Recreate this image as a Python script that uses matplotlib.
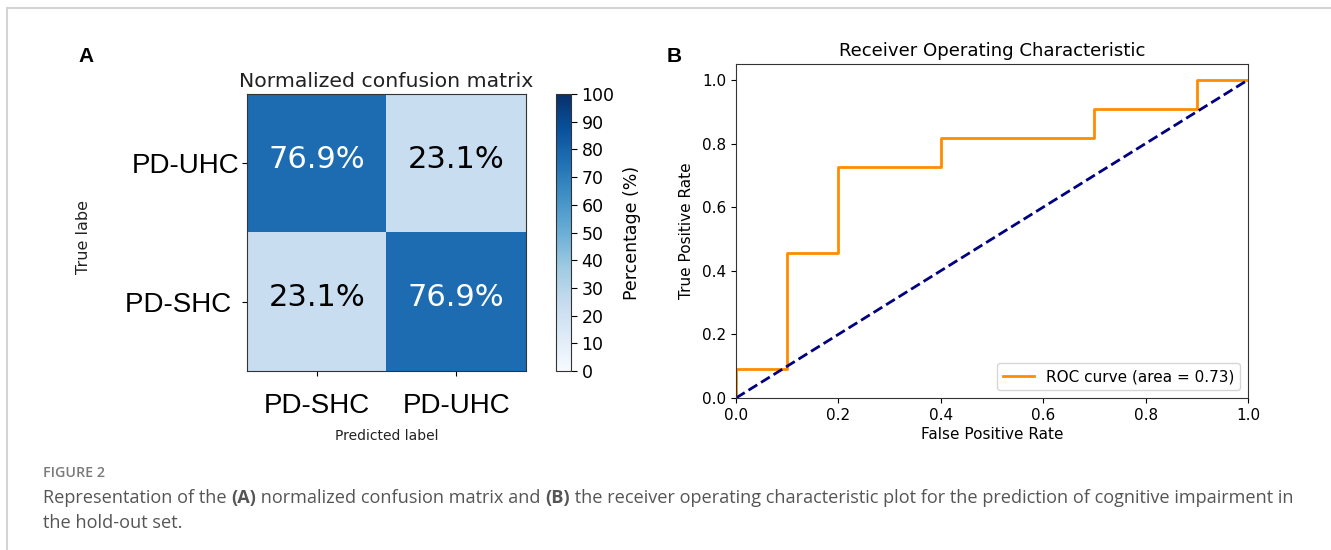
import matplotlib
matplotlib.use("Agg")
import matplotlib.pyplot as plt
import numpy as np
from matplotlib.patches import Rectangle

# ---------------- data ----------------
cm_labels = ["PD-SHC", "PD-UHC"]
cm_row_labels = ["PD-UHC", "PD-SHC "]
cm_values = [[76.9, 23.1],
             [23.1, 76.9]]
cbar_ticks = [0, 10, 20, 30, 40, 50, 60, 70, 80, 90, 100]

roc_fpr = [0.0, 0.0, 0.1, 0.1, 0.2, 0.2, 0.4, 0.4, 0.7, 0.7, 0.9, 0.9, 1.0]
roc_tpr = [0.0, 0.0909, 0.0909, 0.4545, 0.4545, 0.7273, 0.7273, 0.8182, 0.8182, 0.9091, 0.9091, 1.0, 1.0]
roc_auc = 0.73
diag = [0.0, 1.0]
roc_ticks = [0.0, 0.2, 0.4, 0.6, 0.8, 1.0]

W, H = 1331, 550
fig = plt.figure(figsize=(W / 100, H / 100), dpi=100)

def fx(px):
    return px / W

def fy(py):
    return 1 - py / H

# outer border
fig.patches.append(Rectangle((fx(7), fy(560)), fx(1340) - fx(7), fy(8) - fy(560),
                             transform=fig.transFigure, fill=False,
                             edgecolor="#d4d4d4", linewidth=1.5))

# ---------------- Panel A: confusion matrix ----------------
axA = fig.add_axes([fx(247), fy(371), fx(526) - fx(247), fy(94) - fy(371)])
im = axA.imshow(np.array(cm_values), cmap="Blues", vmin=0, vmax=100, aspect="auto")
axA.set_title("Normalized confusion matrix", fontsize=14.7, pad=5, family="DejaVu Sans",
              color="#222222")
axA.set_xticks(range(len(cm_labels)))
axA.set_xticklabels(cm_labels, fontsize=20, family="Liberation Sans")
axA.set_yticks(range(len(cm_row_labels)))
axA.set_yticklabels(cm_row_labels, fontsize=20, family="Liberation Sans")
axA.tick_params(axis="x", pad=12)
axA.tick_params(axis="y", pad=2)
for i in range(2):
    for j in range(2):
        v = cm_values[i][j]
        axA.text(j, i - 0.03, f"{v:.1f}%", ha="center", va="center", fontsize=22,
                 color="white" if v > 50 else "black", family="DejaVu Sans")
for s in axA.spines.values():
    s.set_color("#333333")

cax = fig.add_axes([fx(556), fy(371), fx(571) - fx(556), fy(94) - fy(371)])
cb = fig.colorbar(im, cax=cax, ticks=cbar_ticks)
cb.ax.tick_params(labelsize=12.5, length=4)
cb.outline.set_edgecolor("#333333")
cb.set_label("Percentage (%)", fontsize=12.5, labelpad=6)

fig.text(fx(84), fy(237), "True labe", rotation=90, ha="center", va="center",
         fontsize=11.5, color="#222222")
fig.text(fx(387), fy(436), "Predicted label", ha="center", va="center",
         fontsize=10, color="#222222")

fig.text(fx(86), fy(56), "A", ha="center", va="center", fontsize=15, fontweight="bold",
         family="Liberation Sans")
fig.text(fx(674), fy(56), "B", ha="center", va="center", fontsize=15, fontweight="bold",
         family="Liberation Sans")

# ---------------- Panel B: ROC ----------------
axB = fig.add_axes([fx(736), fy(398), fx(1248) - fx(736), fy(64) - fy(398)])
axB.plot(roc_fpr, roc_tpr, color="darkorange", lw=2,
         label=f"ROC curve (area = {roc_auc:.2f})")
axB.plot(diag, diag, color="navy", lw=2, linestyle="--")
axB.set_xlim(0.0, 1.0)
axB.set_ylim(0.0, 1.05)
axB.set_xticks(roc_ticks)
axB.set_yticks(roc_ticks)
axB.tick_params(labelsize=11)
axB.set_xlabel("False Positive Rate", fontsize=11, labelpad=3)
axB.set_ylabel("True Positive Rate", fontsize=11, labelpad=6)
axB.set_title("Receiver Operating Characteristic", fontsize=13.1, pad=6)
axB.legend(loc="lower right", fontsize=11)
for s in axB.spines.values():
    s.set_color("#333333")

# ---------------- caption ----------------
fig.text(fx(43), fy(473), "FIGURE 2", ha="left", va="center", fontsize=10.3,
         color="#7a7a7a", family="Open Sans", fontweight="semibold")

cap_pieces = [("Representation of the ", "normal"), ("(A)", "bold"),
              (" normalized confusion matrix and ", "normal"), ("(B)", "bold"),
              (" the receiver operating characteristic plot for the prediction of cognitive impairment in", "normal")]
fig.canvas.draw()
renderer = fig.canvas.get_renderer()
x = fx(43)
for txt, wt in cap_pieces:
    t = fig.text(x, fy(498), txt, ha="left", va="center", fontsize=13.1,
                 color="#555555", family="Open Sans", fontweight=wt)
    bb = t.get_window_extent(renderer=renderer)
    x += bb.width / W
fig.text(fx(43), fy(523), "the hold-out set.", ha="left", va="center", fontsize=13.1,
         color="#555555", family="Open Sans")

fig.savefig("out.png", dpi=100)
